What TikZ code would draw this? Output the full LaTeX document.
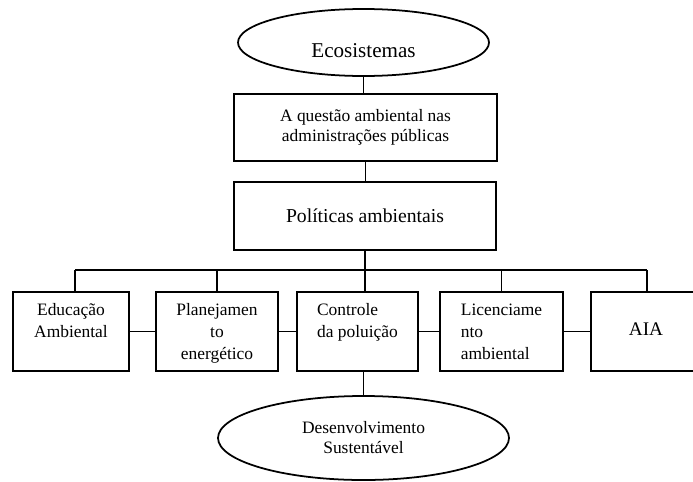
\documentclass[tikz,border=0pt]{standalone}
\usepackage{fontspec}
\setmainfont{Liberation Serif}
\usepackage{tikz}
\usetikzlibrary{shapes.geometric}

\newcommand{\topo}[2]{\parbox[c][1.545cm][t]{2.6cm}{\centering\begin{tabular}[t]{@{}#1@{}}#2\end{tabular}}}

\begin{document}
\begin{tikzpicture}[line width=1.25pt,
  caixa/.style={draw, rectangle, inner sep=0pt, outer sep=0pt, minimum height=1.975cm},
  elipse/.style={draw, ellipse, inner sep=0pt, outer sep=0pt},
  texto/.style={font=\fontsize{12.4pt}{15.6pt}\selectfont}]
\useasboundingbox (0,0) rectangle (17.325,12.025);

\node[elipse, minimum width=6.275cm, minimum height=1.675cm, text height=21pt, text depth=0pt,
  font=\fontsize{15pt}{18pt}\selectfont] (eco) at (9.0875,10.9625) {Ecosistemas};
\node[caixa, minimum width=6.575cm, minimum height=1.675cm, align=center,
  font=\fontsize{12.4pt}{14.2pt}\selectfont] (questao) at (9.1375,8.8375) {A questão ambiental nas\\administrações públicas};
\node[caixa, minimum width=6.55cm, minimum height=1.7cm,
  font=\fontsize{14pt}{16pt}\selectfont] (pol) at (9.125,6.625) {Políticas ambientais};

\node[caixa, texto, minimum width=2.9cm] (edu) at (1.775,3.7375) {\topo{c}{Educação\\Ambiental}};
\node[caixa, texto, minimum width=3.05cm] (plan) at (5.425,3.7375) {\topo{c}{Planejamen\\to\\energético}};
\node[caixa, texto, minimum width=3.025cm] (ctrl) at (8.9375,3.7375) {\topo{l}{Controle\\da poluição}};
\node[caixa, texto, minimum width=3.075cm] (lic) at (12.5375,3.7375) {\topo{l}{Licenciame\\nto\\ambiental}};
\node[caixa, minimum width=2.75cm, text depth=3pt,
  font=\fontsize{13.7pt}{16pt}\selectfont] (aia) at (16.15,3.7375) {AIA};

\node[elipse, minimum width=7.275cm, minimum height=2.1cm, align=center,
  font=\fontsize{12.4pt}{14.2pt}\selectfont] (des) at (9.0875,1.075) {Desenvolvimento\\Sustentável};

\coordinate (busL) at (1.875,5.275);
\coordinate (busR) at (16.175,5.275);

% ligacoes verticais
\draw (eco.south) -- (eco.south |- questao.north);
\draw (questao.south) -- (questao.south |- pol.north);
\draw (pol.south) -- (pol.south |- ctrl.north);
\draw (busL) -- (busR);
\draw (busL) -- (busL |- edu.north);
\draw (plan.north) -- (plan.north |- busL);
\draw (lic.north) -- (lic.north |- busL);
\draw (busR) -- (busR |- aia.north);
\draw (des.north) -- (des.north |- ctrl.south);

% ligacoes horizontais
\draw (edu.east) -- (plan.west);
\draw (plan.east) -- (ctrl.west);
\draw (ctrl.east) -- (lic.west);
\draw (lic.east) -- (aia.west);
\end{tikzpicture}
\end{document}
